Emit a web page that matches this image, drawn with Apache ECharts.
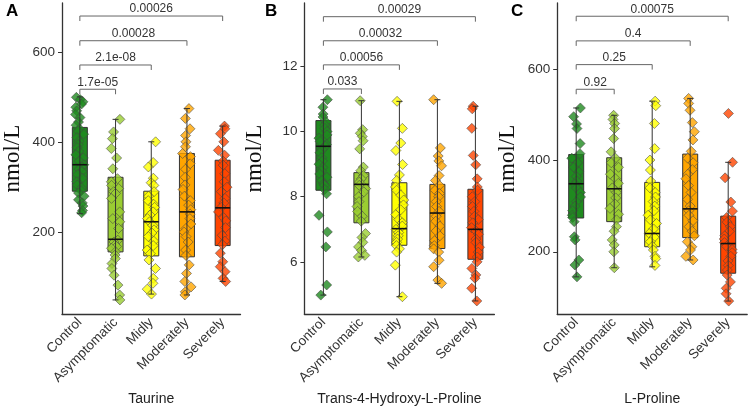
<!DOCTYPE html>
<html><head><meta charset="utf-8">
<script src="https://cdn.jsdelivr.net/npm/echarts@6/dist/echarts.min.js"></script>
<style>html,body{margin:0;padding:0;background:#fff}#c{width:749px;height:412px}</style>
</head><body><div id="c"></div>
<script>
const categories = ['Control','Asymptomatic','Midly','Moderately','Severely'];
const groupColors = ['#1f8a1f','#9acd32','#ffff00','#ffa500','#ff4500'];
const yTicksA = [200,400,600];
const yTicksB = [6,8,10,12];
const yTicksC = [200,400,600];

// Taurine
const taurineControl = [500,495,490,485,478,470,462,455,445,438,430,425,418,410,402,395,388,380,372,365,358,350,345,340,335,328,320,312,305,298,292,287,280,272,265,258,248,243];
const taurineAsym = [451,423,408,386,365,341,319,312,304,297,290,286,275,245,230,223,208,182,178,171,168,164,156,149,141,130,119,104,82,60,49];
const taurineMidly = [401,355,345,320,310,304,290,280,270,262,255,245,238,230,223,215,205,198,190,180,170,160,152,138,119,97,86,73,62];
const taurineModerately = [475,453,430,415,401,390,375,368,352,340,322,305,295,280,270,260,250,240,230,218,208,200,190,178,160,148,127,108,90,78,67,60];
const taurineSeverely = [436,430,419,401,382,371,358,349,330,312,300,290,275,265,255,245,232,225,210,193,180,172,153,134,123,112,97,90];
const taurineBox = [[241,291,350,433,501],[49,156,184,322,451],[62,147,223,291,401],[60,145,245,375,475],[90,170,254,360,436]];
const taurineBrackets = [518,572,626,681];
const taurinePvals = ['1.7e-05','2.1e-08','0.00028','0.00026'];

// Trans-4-Hydroxy-L-Proline
const hypControl = [10.98,10.75,10.54,10.45,10.3,10.2,10.1,10.0,9.9,9.8,9.7,9.6,9.55,9.45,9.35,9.2,9.1,9.0,8.9,8.8,8.7,8.6,8.5,8.4,8.35,8.22,8.09,7.43,6.92,6.46,5.29,4.98];
const hypAsym = [10.95,10.06,9.95,9.85,9.72,9.47,8.91,8.8,8.65,8.55,8.45,8.35,8.25,8.15,8.0,7.85,7.7,7.55,7.4,7.25,6.87,6.75,6.6,6.46,6.35,6.2,6.15];
const hypMidly = [10.93,10.1,9.65,9.42,8.99,8.67,8.5,8.3,8.2,8.05,7.9,7.75,7.6,7.45,7.3,7.2,7.1,7.0,6.9,6.8,6.7,6.6,6.5,6.4,6.3,5.9,4.93];
const hypModerately = [10.98,9.5,9.25,9.1,8.95,8.65,8.5,8.35,8.2,8.1,8.0,7.85,7.7,7.55,7.4,7.25,7.1,6.95,6.8,6.65,6.5,6.4,6.3,6.05,5.85,5.44,5.34];
const hypSeverely = [10.78,10.7,10.1,9.27,8.98,8.55,8.3,8.2,8.0,7.85,7.7,7.55,7.4,7.3,7.2,7.05,6.95,6.85,6.7,6.6,6.45,6.3,6.15,6.0,5.8,5.6,5.5,5.19,4.8];
const hypBox = [[4.98,8.20,9.55,10.34,10.98],[6.15,7.20,8.38,8.74,10.95],[4.93,6.51,7.02,8.43,10.93],[5.34,6.41,7.50,8.38,10.98],[4.80,6.08,7.00,8.23,10.78]];
const hypBrackets = [11.31,12.05,12.79,13.53];
const hypPvals = ['0.033','0.00056','0.00032','0.00029'];

// L-Proline
const proControl = [515,496,480,470,437,415,405,395,385,375,365,355,348,340,330,320,310,300,290,280,275,266,233,226,182,171,145];
const proAsym = [499,490,481,470,448,419,405,395,385,370,360,350,340,330,318,305,295,282,270,255,245,226,215,200,165];
const proMidly = [530,520,481,426,401,379,355,340,330,320,310,300,290,280,270,262,250,240,232,222,212,204,190,185,170];
const proModerately = [536,525,510,483,463,445,420,405,395,380,370,360,345,330,315,300,290,280,268,255,245,235,222,211,204,190,182];
const proSeverely = [503,396,362,309,289,275,265,255,245,235,228,220,212,205,198,190,180,170,160,149,134,120,108,92];
const proBox = [[145,274,349,413,515],[165,266,338,406,499],[167,211,240,352,530],[182,231,294,414,536],[92,153,218,278,396]];
const proBrackets = [556,610,662,716];
const proPvals = ['0.92','0.25','0.4','0.00075'];

const panels = [
  {title:'Taurine', letter:'A', groups:[taurineControl,taurineAsym,taurineMidly,taurineModerately,taurineSeverely], box:taurineBox, brackets:taurineBrackets, pvals:taurinePvals, ticks:yTicksA, min:17, max:710, left:52.5, width:188},
  {title:'Trans-4-Hydroxy-L-Proline', letter:'B', groups:[hypControl,hypAsym,hypMidly,hypModerately,hypSeverely], box:hypBox, brackets:hypBrackets, pvals:hypPvals, ticks:yTicksB, min:4.39, max:13.95, left:304.4, width:190},
  {title:'L-Proline', letter:'C', groups:[proControl,proAsym,proMidly,proModerately,proSeverely], box:proBox, brackets:proBrackets, pvals:proPvals, ticks:yTicksC, min:63, max:745, left:557.2, width:190}
];

const AX = '#333';
const grids=[], xAxes=[], yAxes=[], series=[], graphics=[];
panels.forEach((p, g) => {
  grids.push({left:p.left, top:3, width:p.width, height:311.3});
  xAxes.push({type:'category', gridIndex:g, data:categories, boundaryGap:true,
    jitter:9, jitterOverlap:true,
    axisLine:{lineStyle:{color:AX,width:1.3}},
    axisTick:{alignWithLabel:true,length:4,lineStyle:{color:AX}},
    axisLabel:{rotate:45, margin:6, color:'#333', fontSize:13.5, fontFamily:'Liberation Sans, Arial', interval:0},
    name:p.title, nameLocation:'middle', nameGap:78,
    nameTextStyle:{color:'#222', fontSize:14, fontFamily:'Liberation Sans, Arial'}
  });
  yAxes.push({type:'value', gridIndex:g, min:p.min, max:p.max,
    splitLine:{show:false},
    axisLine:{show:true, lineStyle:{color:AX,width:1.3}},
    axisTick:{show:true, length:4, lineStyle:{color:AX}, customValues:p.ticks},
    axisLabel:{color:'#333', fontSize:13.5, fontFamily:'Liberation Sans, Arial', margin:7, customValues:p.ticks},
    name:'nmol/L', nameLocation:'middle', nameGap:38,
    nameTextStyle:{color:'#111', fontSize:23, fontFamily:'Liberation Serif, Times New Roman, serif'}
  });
  const boxData = p.box.map((b,i)=>[i].concat(b));
  series.push({type:'custom', xAxisIndex:g, yAxisIndex:g, z:1, data:boxData, encode:{x:0,y:[1,2,3,4,5]},
    renderItem:(params, api)=>{
      const i = api.value(0);
      const a = api.coord([i, api.value(2)]);
      const b = api.coord([i, api.value(4)]);
      const w = 15;
      return {type:'rect', shape:{x:a[0]-w/2, y:b[1], width:w, height:a[1]-b[1]},
        style:{fill:groupColors[i], stroke:'#333', lineWidth:1}};
    }});
  const pts = [];
  p.groups.forEach((arr,i)=>arr.forEach(v=>pts.push([i,v])));
  series.push({type:'scatter', xAxisIndex:g, yAxisIndex:g, z:2, data:pts, symbol:'diamond', symbolSize:10,
    itemStyle:{color:(prm)=>groupColors[prm.data[0]], borderColor:'#444', borderWidth:0.7}});
  series.push({type:'custom', xAxisIndex:g, yAxisIndex:g, z:3, data:boxData, encode:{x:0,y:[1,2,3,4,5]},
    renderItem:(params, api)=>{
      const i = api.value(0);
      const lo = api.coord([i, api.value(1)]);
      const md = api.coord([i, api.value(3)]);
      const hi = api.coord([i, api.value(5)]);
      const w = 15, c = 3;
      const st = {stroke:'#333', lineWidth:1};
      return {type:'group', children:[
        {type:'line', shape:{x1:lo[0],y1:lo[1],x2:hi[0],y2:hi[1]}, style:st},
        {type:'line', shape:{x1:hi[0]-c,y1:hi[1],x2:hi[0]+c,y2:hi[1]}, style:st},
        {type:'line', shape:{x1:lo[0]-c,y1:lo[1],x2:lo[0]+c,y2:lo[1]}, style:st},
        {type:'line', shape:{x1:md[0]-w/2,y1:md[1],x2:md[0]+w/2,y2:md[1]}, style:{stroke:'#111', lineWidth:1.6}}
      ]};
    }});
  const brData = p.brackets.map((lv,k)=>[k+1, lv]);
  series.push({type:'custom', xAxisIndex:g, yAxisIndex:g, z:4, clip:false, data:brData, encode:{x:0,y:1},
    renderItem:(params, api)=>{
      const k = api.value(0), lv = api.value(1);
      const s = api.coord([0, lv]), e = api.coord([k, lv]);
      return {type:'group', children:[
        {type:'polyline', shape:{points:[[s[0],s[1]+5],[s[0],s[1]],[e[0],e[1]],[e[0],e[1]+5]]}, style:{stroke:'#666', lineWidth:1, fill:null}},
        {type:'text', x:(s[0]+e[0])/2, y:s[1]-1, style:{text:p.pvals[params.dataIndex], fill:'#333', fontSize:12, fontFamily:'Liberation Sans, Arial', align:'center', verticalAlign:'bottom'}}
      ]};
    }});
  graphics.push({type:'text', left:[6,265,511][g], top:3, style:{text:p.letter, fontSize:17, fontWeight:'bold', fill:'#000', fontFamily:'Liberation Sans, Arial'}});
});

const chart = echarts.init(document.getElementById('c'), null, {renderer:'canvas'});
chart.setOption({animation:false, grid:grids, xAxis:xAxes, yAxis:yAxes, series:series, graphic:graphics});
</script></body></html>
